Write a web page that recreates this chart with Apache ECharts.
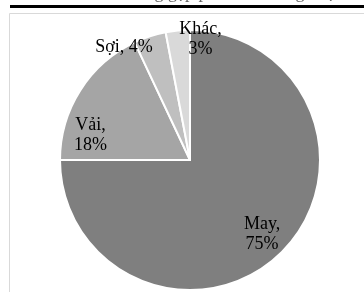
<!DOCTYPE html>
<html>
<head>
<meta charset="utf-8">
<script src="https://cdn.jsdelivr.net/npm/echarts@6/dist/echarts.min.js"></script>
<style>
  html, body { margin: 0; padding: 0; background: #fff; }
  #chart { width: 364px; height: 292px; }
</style>
</head>
<body>
<div id="chart"></div>
<script>
  const categories = ['May', 'Vải', 'Sợi', 'Khác'];
  const shares = [75, 18, 4, 3];
  const sliceColors = ['#7f7f7f', '#a5a5a5', '#bfbfbf', '#d9d9d9'];
  // label nudges from the 'inside' spot, per slice
  const labelShift = [[24, 26], [-42, 12], [-45, -48], [17, -53]];

  const chart = echarts.init(document.getElementById('chart'));
  chart.setOption({
    animation: false,
    graphic: [
      {
        type: 'text',
        left: 'center',
        top: -16,
        style: {
          text: 'Cơ cấu lỗi của hàng gặp phải theo công đoạn',
          font: '18px "Liberation Serif"',
          fill: '#666',
        },
      },
      {
        type: 'line',
        shape: { x1: 10, y1: 6.5, x2: 364, y2: 6.5 },
        style: { stroke: '#000', lineWidth: 3 },
      },
      {
        type: 'rect',
        shape: { x: 9.5, y: 13.5, width: 400, height: 300 },
        style: { fill: 'none', stroke: '#d9d9d9', lineWidth: 1 },
      },
    ],
    series: [
      {
        type: 'pie',
        center: [190, 160],
        radius: 130,
        startAngle: 90,
        clockwise: true,
        itemStyle: { borderColor: '#fff', borderWidth: 2 },
        label: {
          position: 'inside',
          fontFamily: 'Liberation Serif',
          fontSize: 18,
          lineHeight: 20,
          color: '#000',
          formatter: (p) => (p.dataIndex === 2 ? `${p.name}, ${p.value}%` : `${p.name},\n${p.value}%`),
        },
        labelLine: { show: false },
        labelLayout: (p) => ({ dx: labelShift[p.dataIndex][0], dy: labelShift[p.dataIndex][1] }),
        data: categories.map((name, i) => ({
          name,
          value: shares[i],
          itemStyle: { color: sliceColors[i] },
        })),
      },
    ],
  });
</script>
</body>
</html>
